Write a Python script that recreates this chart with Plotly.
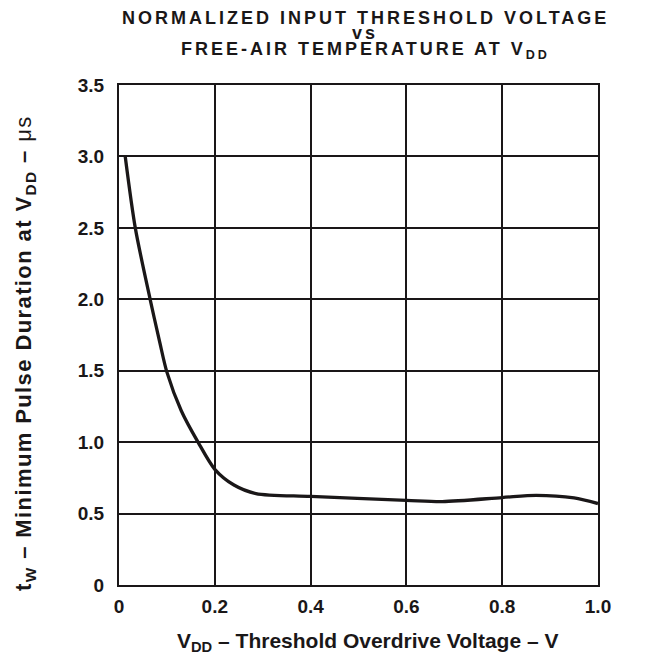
import plotly.graph_objects as go

# Data
vdd_overdrive = [0.013, 0.034, 0.065, 0.085, 0.10, 0.13, 0.165, 0.20, 0.24, 0.286,
                 0.40, 0.60, 0.675, 0.80, 0.871, 0.95, 1.00]
pulse_width = [3.00, 2.50, 2.00, 1.70, 1.49, 1.22, 1.00, 0.81, 0.70, 0.64,
               0.62, 0.593, 0.584, 0.612, 0.628, 0.61, 0.57]

x_ticks = [0, 0.2, 0.4, 0.6, 0.8, 1.0]
x_tick_labels = ["0", "0.2", "0.4", "0.6", "0.8", "1.0"]
y_ticks = [0, 0.5, 1.0, 1.5, 2.0, 2.5, 3.0, 3.5]
y_tick_labels = ["0", "0.5", "1.0", "1.5", "2.0", "2.5", "3.0", "3.5"]

FONT = "Liberation Sans, Arial, sans-serif"
INK = "#1a1718"

fig = go.Figure()
fig.add_trace(go.Scatter(
    x=vdd_overdrive, y=pulse_width, mode="lines",
    line=dict(color=INK, width=3.3, shape="spline", smoothing=0.8),
    showlegend=False, hoverinfo="skip",
))

L, R, T, B = 111, 63, 77, 83
W, H = 653, 660
ph = H - T - B
pw = W - L - R

def py(p):
    return 1 + (T - p) / ph

def px(p):
    return (p - L) / pw

axis_common = dict(
    showgrid=True, gridcolor=INK, gridwidth=2,
    showline=True, linecolor=INK, linewidth=2, mirror=True,
    zeroline=False, ticks="",
    tickfont=dict(family=FONT, size=19, color=INK, weight="bold"),
)

fig.update_xaxes(range=[0, 1.0], tickvals=x_ticks, ticktext=x_tick_labels,
                 ticklabelstandoff=3, **axis_common)
fig.update_yaxes(range=[0, 3.5], tickvals=y_ticks, ticktext=y_tick_labels,
                 ticklabelstandoff=9, **axis_common)

title_font = dict(family=FONT, size=18, color=INK, weight="bold")
title_x = px(357)
sp = "<span style='letter-spacing:3px'>{}</span>"
annos = [
    dict(text=sp.format("<b>NORMALIZED INPUT THRESHOLD VOLTAGE</b>"), y=py(10)),
    dict(text=sp.format("<b>vs</b>"), y=py(24.5)),
    dict(text=sp.format("<b>FREE-AIR TEMPERATURE AT V<sub>DD</sub></b>"), y=py(42.5)),
]
for a in annos:
    fig.add_annotation(x=title_x, xref="paper", yref="paper", xanchor="center", yanchor="middle",
                       showarrow=False, font=title_font, **a)

fig.add_annotation(
    text="<b>V<sub>DD</sub> – Threshold Overdrive Voltage – V</b>",
    x=px(359), y=py(634), xref="paper", yref="paper", xanchor="center", yanchor="middle",
    showarrow=False, font=dict(family=FONT, size=21, color=INK),
)
fig.add_annotation(
    text="<span style='letter-spacing:1.4px'><b>t<sub>W</sub> – Minimum Pulse Duration at V<sub>DD</sub> – </b>μs</span>",
    x=px(17), y=py(345), xref="paper", yref="paper", xanchor="center", yanchor="middle",
    textangle=-90, showarrow=False, font=dict(family=FONT, size=22, color=INK),
)

fig.update_layout(
    width=W, height=H,
    margin=dict(l=L, r=R, t=T, b=B),
    paper_bgcolor="white", plot_bgcolor="white",
    font=dict(family=FONT, color=INK),
)

fig.write_html("out.html")
